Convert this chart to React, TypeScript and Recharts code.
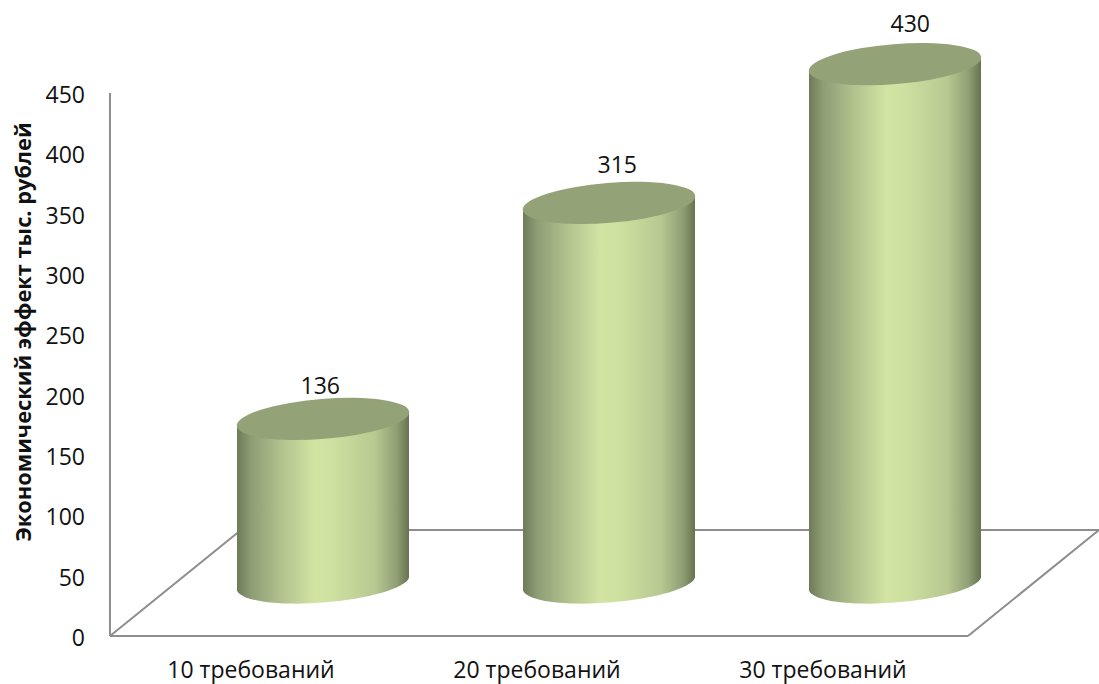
import { Bar, BarChart, LabelList, XAxis, YAxis, usePlotArea } from "recharts"

const categories = ["10 требований", "20 требований", "30 требований"]
const effect = [136, 315, 430]
const yTicks = [0, 50, 100, 150, 200, 250, 300, 350, 400, 450]

const chartData = categories.map((name, i) => ({ name, effect: effect[i] }))

const FONT = "'Open Sans', sans-serif"
const AXIS_COLOR = "#8e8e8e"
const AXIS_WIDTH = 2

// floor depth of the fake 3D scene; columns stand about halfway back
const DEPTH_X = 131
const DEPTH_Y = 106
const SHIFT_X = 70
const SHIFT_Y = 53

// tilted cap ellipse
const RX = 86.5
const RY = 20
const TILT = -4.6
const TILT_OFFSET = 6.6

function Floor() {
    const plot = usePlotArea()
    if (!plot) return null
    const { x, y, width, height } = plot
    const bottom = y + height
    const right = x + width
    return (
        <path
            d={`M${x} ${bottom} L${x + DEPTH_X} ${bottom - DEPTH_Y} L${right + DEPTH_X} ${bottom - DEPTH_Y} L${right} ${bottom}`}
            stroke={AXIS_COLOR}
            strokeWidth={AXIS_WIDTH}
            fill="none"
        />
    )
}

function Cylinder(props: any) {
    const { x, y, width, height, index } = props
    const left = x + SHIFT_X
    const right = left + width
    const cx = left + width / 2
    const top = y - SHIFT_Y
    const base = y + height - SHIFT_Y + 1
    const gid = `cyl-side-${index}`
    const arc = `A${RX} ${RY} ${TILT} 0 0`

    return (
        <g>
            <defs>
                <linearGradient id={gid} x1="0" y1="0" x2="1" y2="0">
                    <stop offset="0%" stopColor="#6d7b57" />
                    <stop offset="8%" stopColor="#8d9c75" />
                    <stop offset="25%" stopColor="#b0c08c" />
                    <stop offset="45%" stopColor="#d1e4a3" />
                    <stop offset="55%" stopColor="#cfe1a0" />
                    <stop offset="80%" stopColor="#b8c991" />
                    <stop offset="93%" stopColor="#8f9e74" />
                    <stop offset="100%" stopColor="#66734f" />
                </linearGradient>
            </defs>
            <path
                d={`M${left} ${top + TILT_OFFSET} L${left} ${base + TILT_OFFSET} ${arc} ${right} ${base - TILT_OFFSET} L${right} ${top - TILT_OFFSET} Z`}
                fill={`url(#${gid})`}
            />
            <ellipse
                cx={cx}
                cy={top}
                rx={RX}
                ry={RY}
                transform={`rotate(${TILT} ${cx} ${top})`}
                fill="#94a377"
            />
        </g>
    )
}

// value labels drift right and up with the height of the column
function ValueLabel(props: any) {
    const { x, y, width, value } = props
    const cx = x + width / 2 + SHIFT_X
    const dx = -11 + 0.061 * value
    const dy = 31 + 0.024 * value
    return (
        <text
            x={cx + dx}
            y={y - SHIFT_Y - dy}
            textAnchor="middle"
            dominantBaseline="central"
            fontFamily={FONT}
            fontSize={23}
            fill="#111"
        >
            {value}
        </text>
    )
}

export default function App() {
    return (
        <div style={{ position: "absolute", left: 0, top: 0, width: 1099, height: 684 }}>
            <BarChart
                width={1099}
                height={684}
                data={chartData}
                margin={{ top: 93, right: 131, bottom: 0, left: 50 }}
                barSize={172}
            >
                <XAxis
                    dataKey="name"
                    height={48}
                    axisLine={{ stroke: AXIS_COLOR, strokeWidth: AXIS_WIDTH }}
                    tickLine={false}
                    tickMargin={20}
                    interval={0}
                    tick={{ fill: "#111", fontSize: 23, fontFamily: FONT, dx: -2 }}
                />
                <YAxis
                    width={60}
                    domain={[0, 450]}
                    ticks={yTicks}
                    interval={0}
                    axisLine={{ stroke: AXIS_COLOR, strokeWidth: AXIS_WIDTH }}
                    tickLine={false}
                    tickMargin={19}
                    tick={{ fill: "#111", fontSize: 23, fontFamily: FONT, dy: 2 }}
                />
                <Floor />
                <Bar dataKey="effect" shape={<Cylinder />} isAnimationActive={false}>
                    <LabelList dataKey="effect" content={<ValueLabel />} />
                </Bar>
                <text
                    x={22}
                    y={332}
                    transform="rotate(-90 22 332)"
                    textAnchor="middle"
                    dominantBaseline="central"
                    fontFamily={FONT}
                    fontSize={21.8}
                    fontWeight={700}
                    fill="#111"
                >
                    Экономический эффект тыс. рублей
                </text>
            </BarChart>
        </div>
    )
}
